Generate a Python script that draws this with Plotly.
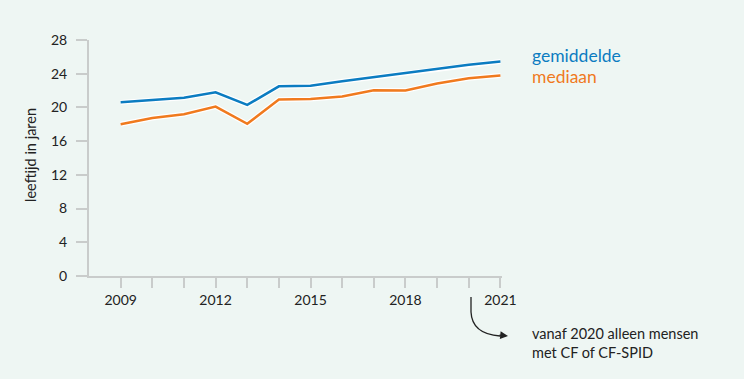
import plotly.graph_objects as go

years = [2009, 2010, 2011, 2012, 2013, 2014, 2015, 2016, 2017, 2018, 2019, 2020, 2021]
gemiddelde = [20.6, 20.9, 21.15, 21.8, 20.3, 22.5, 22.57, 23.1, 23.6, 24.05, 24.55, 25.05, 25.45]
mediaan = [18.0, 18.75, 19.2, 20.1, 18.05, 20.95, 21.0, 21.3, 22.05, 22.0, 22.85, 23.45, 23.8]
x_tick_labels = ["2009", "", "", "2012", "", "", "2015", "", "", "2018", "", "", "2021"]
y_ticks = [0, 4, 8, 12, 16, 20, 24, 28]

BLUE = "#0b7cc1"
ORANGE = "#f07a1e"
BG = "#eef6f3"
AXIS = "#c9cccb"
TEXT = "#222222"
FONT = "Lato"

W, H = 744, 379
L, R, T, B = 89, 242, 40, 103
PW, PH = W - L - R, H - T - B


def px(xp):
    return (xp - L) / PW


def py(yp):
    return (H - B - yp) / PH


fig = go.Figure()
for vals, col in [(gemiddelde, BLUE), (mediaan, ORANGE)]:
    fig.add_trace(go.Scatter(x=years, y=vals, mode="lines",
                             line=dict(color="white", width=5), hoverinfo="skip",
                             showlegend=False))
    fig.add_trace(go.Scatter(x=years, y=vals, mode="lines",
                             line=dict(color=col, width=2.5), showlegend=False))

fig.update_layout(
    width=W, height=H,
    margin=dict(l=L, r=R, t=T, b=B, pad=0),
    paper_bgcolor=BG, plot_bgcolor=BG,
    font=dict(family=FONT, color=TEXT, size=14),
    showlegend=False,
)
fig.update_xaxes(range=[2008, 2021.05], tickvals=years, ticktext=x_tick_labels,
                 showgrid=False, zeroline=False, showline=True, linecolor=AXIS,
                 linewidth=2, ticks="outside", ticklen=10, tickwidth=1.5,
                 tickcolor=AXIS, tickfont=dict(size=14, color=TEXT),
                 ticklabelstandoff=0, fixedrange=True)
fig.update_yaxes(range=[0, 28], tickvals=y_ticks, showgrid=False, zeroline=False,
                 showline=True, linecolor=AXIS, linewidth=2, ticks="outside",
                 ticklen=11, tickwidth=1.5, tickcolor=AXIS,
                 tickfont=dict(size=14, color=TEXT), ticklabelstandoff=6,
                 fixedrange=True)

ann = [
    dict(text="leeftijd in jaren", x=px(30), y=py(155), textangle=-90,
         font=dict(size=14.5, color=TEXT)),
    dict(text="gemiddelde", x=px(530), y=py(55), xanchor="left",
         font=dict(size=17.5, color=BLUE)),
    dict(text="mediaan", x=px(530), y=py(76), xanchor="left",
         font=dict(size=17.5, color=ORANGE)),
    dict(text="vanaf 2020 alleen mensen<br>met CF of CF-SPID", x=px(530), y=py(343),
         xanchor="left", align="left", font=dict(size=14.5, color=TEXT)),
]
for a in ann:
    a.update(xref="paper", yref="paper", showarrow=False,
             yanchor=a.get("yanchor", "middle"), xanchor=a.get("xanchor", "center"))
    fig.add_annotation(**a)

# curved arrow
fig.add_shape(type="path", xref="paper", yref="paper",
              path=f"M {px(471)} {py(297)} L {px(471)} {py(312)} "
                   f"Q {px(472)} {py(334)} {px(500)} {py(336)}",
              line=dict(color=TEXT, width=1.3))
fig.add_annotation(xref="paper", yref="paper", x=px(508), y=py(336),
                   ax=-10, ay=-1, text="", showarrow=True, arrowhead=2,
                   arrowsize=1.2, arrowwidth=1.3, arrowcolor=TEXT)

fig.write_html("out.html", config={"displayModeBar": False},
               post_script="document.body.style.margin='0';"
                           "document.body.style.background='" + BG + "';")
